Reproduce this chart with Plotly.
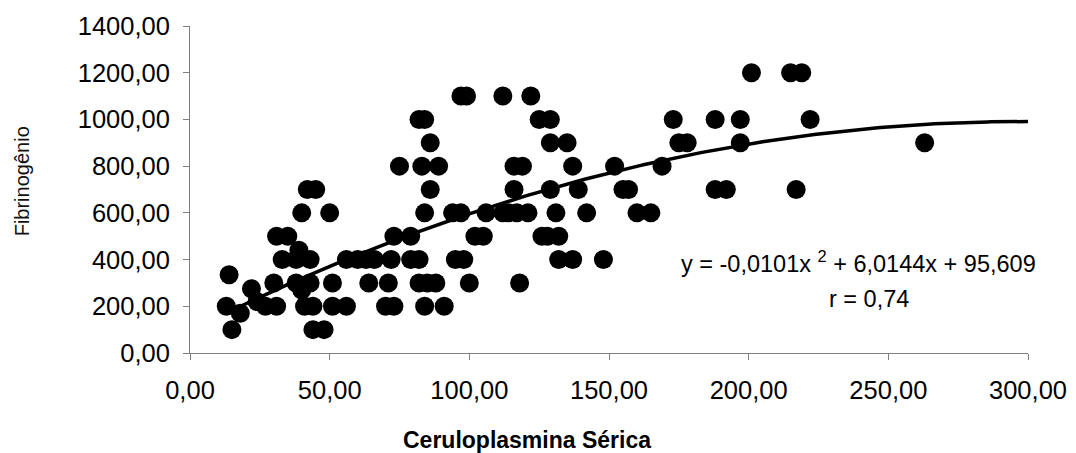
import numpy as np
import plotly.graph_objects as go

# ---- data ----
ceruloplasmina = [
    201, 215, 219,
    97, 99, 112, 122,
    82, 84, 125, 129, 173, 188, 197, 222,
    86, 129, 135, 175, 178, 197, 263,
    75, 83, 89, 116, 119, 137, 152, 169,
    42, 45, 86, 116, 129, 139, 155, 157, 188, 192, 217,
    40, 50, 84, 94, 97, 106, 112, 114, 117, 121, 131, 142, 160, 165,
    31, 35, 73, 79, 102, 105, 126, 128, 132,
    39,
    33, 38, 43, 56, 60, 63, 66, 72, 79, 82, 95, 98, 132, 137, 148,
    14,
    30, 38, 43, 51, 64, 71, 82, 85, 88, 100, 118,
    22, 40, 24,
    13, 27, 31, 41, 44, 51, 56, 70, 73, 84, 91,
    18,
    15, 44, 48,
]
fibrinogenio = (
    [1200] * 3 + [1100] * 4 + [1000] * 8 + [900] * 7 + [800] * 8 + [700] * 11
    + [600] * 14 + [500] * 9 + [440] + [400] * 15 + [335] + [300] * 11
    + [275, 270, 220] + [200] * 11 + [170] + [100] * 3
)

# trend line coefficients as printed on the chart
coef_a, coef_b, coef_c = -0.0101, 6.0144, 95.609
trend_x_start, trend_x_end = 13, 300

x_ticks = [0, 50, 100, 150, 200, 250, 300]
y_ticks = [0, 200, 400, 600, 800, 1000, 1200, 1400]

equation_text = "y = -0,0101x <sup>2</sup> + 6,0144x + 95,609"
r_text = "r = 0,74"
x_title = "Ceruloplasmina Sérica"
y_title = "Fibrinogênio"

# ---- figure ----
tx = np.linspace(trend_x_start, trend_x_end, 300)
ty = coef_a * tx ** 2 + coef_b * tx + coef_c

FONT = "Liberation Sans, Arial, sans-serif"
AXIS_GREY = "#808080"

fig = go.Figure()
fig.add_trace(go.Scatter(
    x=ceruloplasmina, y=fibrinogenio, mode="markers",
    marker=dict(size=19, color="black", line=dict(width=0)),
    showlegend=False, hoverinfo="skip",
))
fig.add_trace(go.Scatter(
    x=tx, y=ty, mode="lines",
    line=dict(color="black", width=3.5),
    showlegend=False, hoverinfo="skip",
))

# the page has an 8px body margin, so the figure is drawn 8px smaller
fig.update_layout(
    width=1068, height=445,
    margin=dict(l=182, r=48, t=18, b=100, autoexpand=False),
    paper_bgcolor="white", plot_bgcolor="white",
    separators=",.",
    font=dict(family=FONT, color="black", size=25.5),
    xaxis=dict(
        range=[0, 300], tickvals=x_ticks, tickformat=".2f",
        showgrid=False, zeroline=False, automargin=False,
        showline=True, linecolor=AXIS_GREY, linewidth=1,
        ticks="outside", ticklen=6, tickcolor=AXIS_GREY, tickwidth=1,
        tickfont=dict(size=25.5, family=FONT, color="black"),
        ticklabelstandoff=8,
    ),
    yaxis=dict(
        range=[0, 1400], tickvals=y_ticks, tickformat=".2f",
        showgrid=False, zeroline=False, automargin=False,
        showline=True, linecolor=AXIS_GREY, linewidth=1,
        ticks="outside", ticklen=6, tickcolor=AXIS_GREY, tickwidth=1,
        tickfont=dict(size=25.5, family=FONT, color="black"),
        ticklabelstandoff=8,
    ),
    annotations=[
        dict(text=equation_text, xref="x", yref="y", x=175, y=391,
             xanchor="left", yanchor="middle", showarrow=False,
             font=dict(size=23.5, family=FONT, color="black")),
        dict(text=r_text, xref="x", yref="y", x=228, y=232,
             xanchor="left", yanchor="middle", showarrow=False,
             font=dict(size=23.5, family=FONT, color="black")),
        dict(text="<b>" + x_title + "</b>", xref="x", yref="paper",
             x=120.6, y=0, yshift=-87, xanchor="center", yanchor="middle",
             showarrow=False, font=dict(size=23, family=FONT, color="black")),
        dict(text=y_title, xref="paper", yref="y", x=0, xshift=-168,
             y=735, xanchor="center", yanchor="middle", textangle=-90,
             showarrow=False, font=dict(size=20, family=FONT, color="#111111")),
    ],
)

fig.write_html("out.html")
